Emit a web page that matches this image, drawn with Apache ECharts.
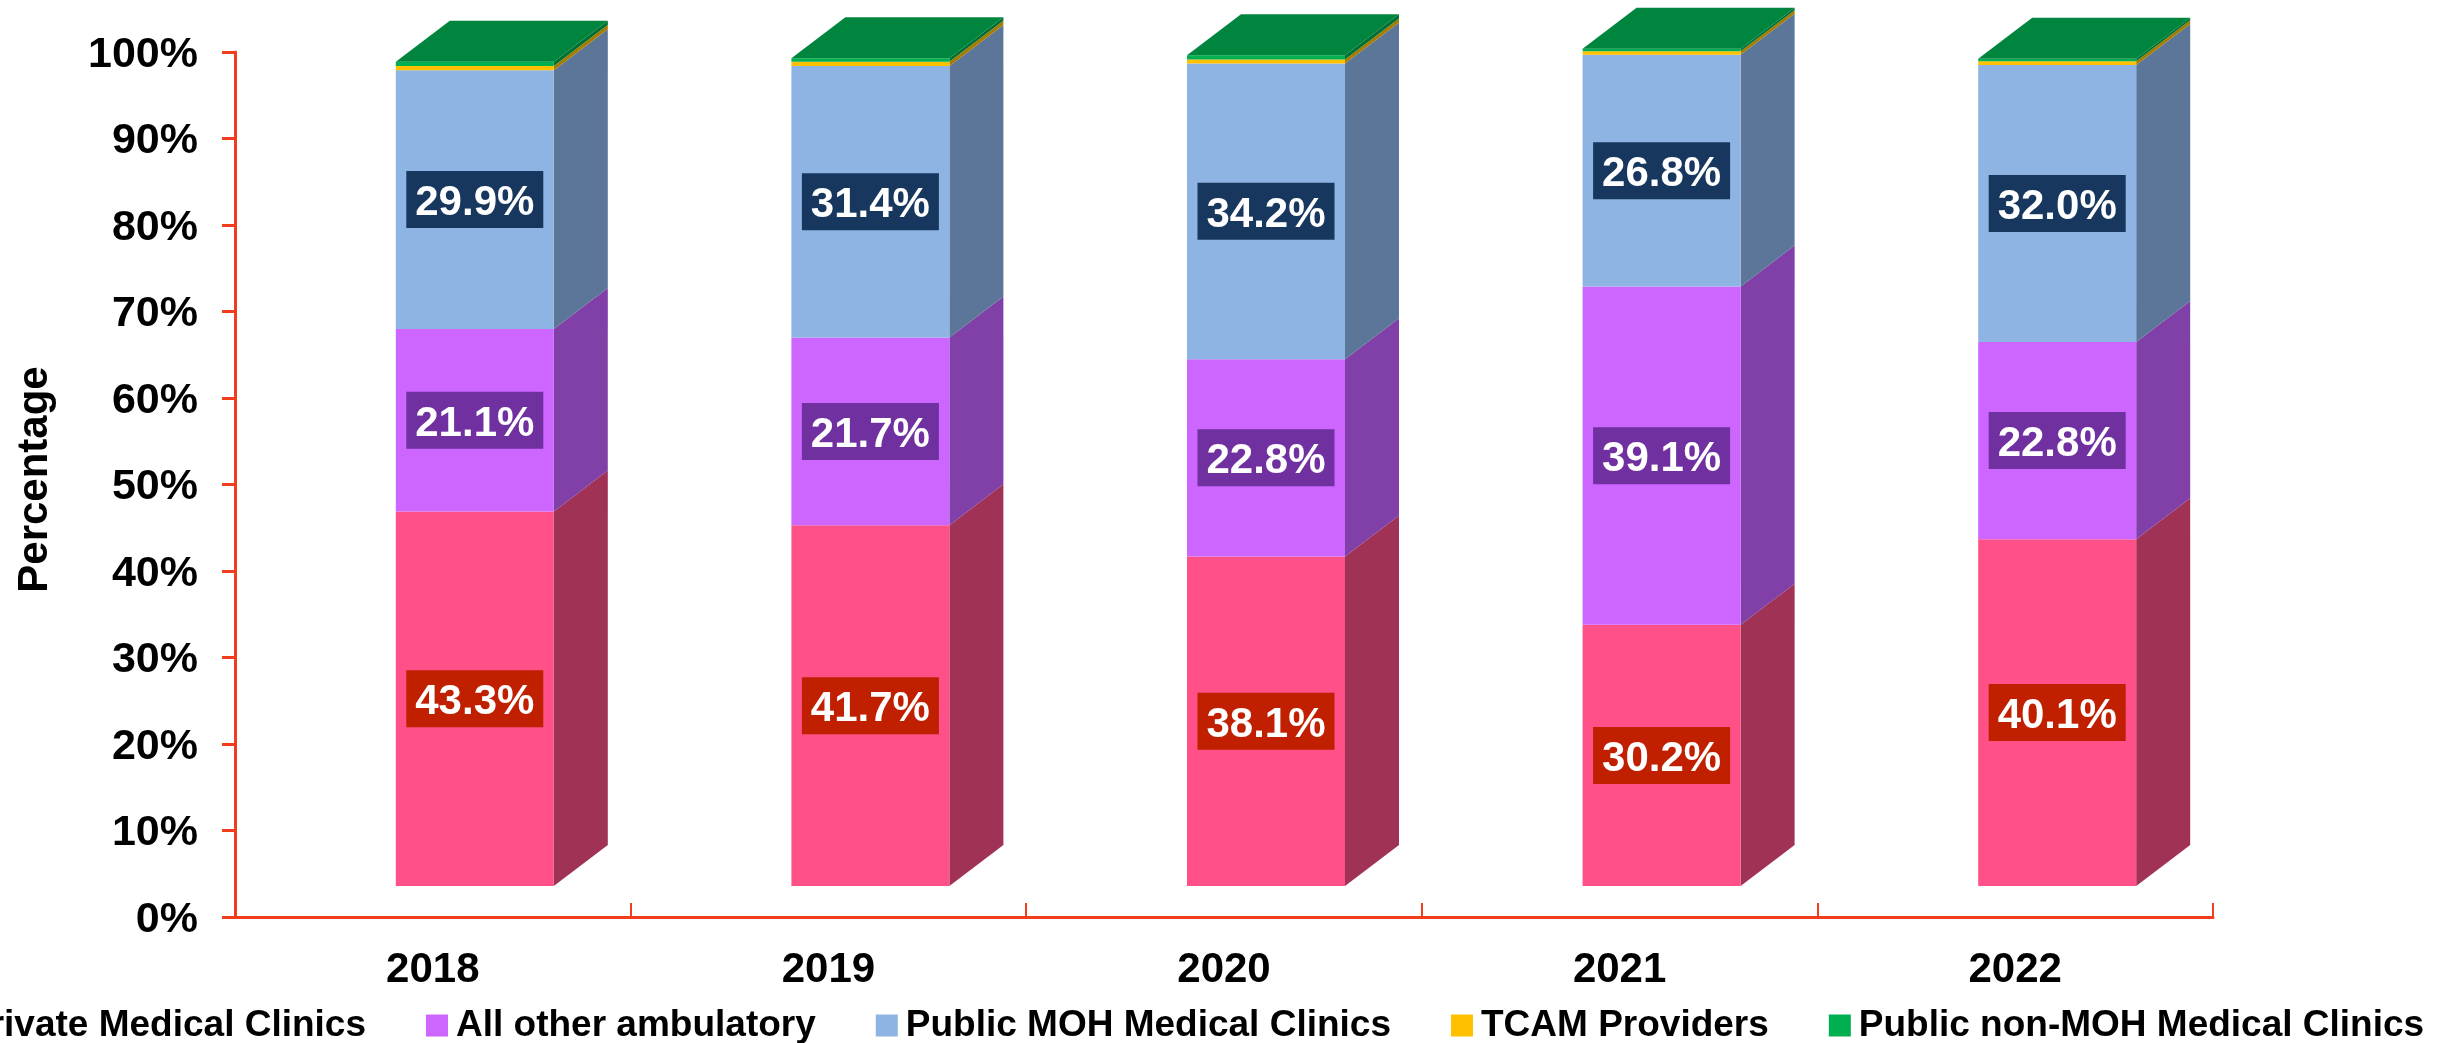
<!DOCTYPE html>
<html>
<head>
<meta charset="utf-8">
<style>
html, body { margin: 0; padding: 0; background: #fff; }
#chart { width: 2438px; height: 1043px; }
</style>
<script src="https://cdn.jsdelivr.net/npm/echarts@6/dist/echarts.min.js"></script>
</head>
<body>
<div id="chart"></div>
<script>
const years = ['2018', '2019', '2020', '2021', '2022'];
const yTicks = [0, 10, 20, 30, 40, 50, 60, 70, 80, 90, 100];
const seriesNames = ['Private Medical Clinics', 'All other ambulatory', 'Public MOH Medical Clinics', 'TCAM Providers', 'Public non-MOH Medical Clinics'];

const privateClinics = [43.3, 41.7, 38.1, 30.2, 40.1];
const otherAmbulatory = [21.1, 21.7, 22.8, 39.1, 22.8];
const publicMoh = [29.9, 31.4, 34.2, 26.8, 32.0];
const tcam = [0.5, 0.5, 0.45, 0.4, 0.45];
const publicNonMoh = [0.5, 0.4, 0.5, 0.3, 0.3];

const allValues = [privateClinics, otherAmbulatory, publicMoh, tcam, publicNonMoh];
const frontColors = ['#FF5088', '#CC66FF', '#8DB4E2', '#FFC000', '#00B050'];
const sideColors = ['#A03256', '#8040A8', '#5C7699', '#A67C00', '#006F32'];
const labelColors = ['#C01F00', '#7030A0', '#17375E', null, null];
const topColor = '#00853E';

// pseudo 3d: the bars sit in front of the axis plane
const barW = 158;
const depthX = 54;
const depthY = 41;
const shiftX = 42;
const shiftY = -31;
const labelBoxW = 137;
const labelBoxH = 57;

const fontName = '"Liberation Sans", Arial, sans-serif';
const chart = echarts.init(document.getElementById('chart'));

function makeSeries(idx) {
    const data = years.map((y, i) => {
        let base = 0;
        for (let s = 0; s < idx; s++) base += allValues[s][i];
        return [i, base, base + allValues[idx][i]];
    });
    return {
        name: seriesNames[idx],
        type: 'custom',
        itemStyle: { color: frontColors[idx] },
        encode: { x: 0, y: 2 },
        data: data,
        z: 2 + idx,
        renderItem: function (params, api) {
            const i = api.value(0);
            const p0 = api.coord([i, api.value(1)]);
            const p1 = api.coord([i, api.value(2)]);
            const x = p0[0] + shiftX - barW / 2;
            const yb = p0[1] + shiftY;
            const yt = p1[1] + shiftY;
            const children = [{
                type: 'polygon',
                shape: { points: [[x + barW, yb], [x + barW + depthX, yb - depthY], [x + barW + depthX, yt - depthY], [x + barW, yt]] },
                style: { fill: sideColors[idx] }
            }, {
                type: 'rect',
                shape: { x: x, y: yt, width: barW, height: yb - yt },
                style: { fill: frontColors[idx] }
            }];
            if (idx === allValues.length - 1) {
                children.push({
                    type: 'polygon',
                    shape: { points: [[x, yt], [x + depthX, yt - depthY], [x + barW + depthX, yt - depthY], [x + barW, yt]] },
                    style: { fill: topColor }
                });
            }
            if (labelColors[idx]) {
                const cx = x + barW / 2;
                const cy = (yb + yt) / 2;
                children.push({
                    type: 'rect',
                    z2: 9,
                    shape: { x: cx - labelBoxW / 2, y: cy - labelBoxH / 2, width: labelBoxW, height: labelBoxH },
                    style: { fill: labelColors[idx] }
                }, {
                    type: 'text',
                    z2: 10,
                    style: {
                        x: cx,
                        y: cy + 4,
                        text: allValues[idx][i].toFixed(1) + '%',
                        fill: '#fff',
                        font: 'bold 42px ' + fontName,
                        align: 'center',
                        verticalAlign: 'middle'
                    }
                });
            }
            return { type: 'group', children: children };
        }
    };
}

chart.setOption({
    animation: false,
    backgroundColor: '#fff',
    textStyle: { fontFamily: fontName },
    grid: { left: 235, right: 225, top: 52, bottom: 126, outerBoundsMode: 'none' },
    legend: {
        data: seriesNames,
        left: -70,
        top: 1002,
        width: 4000,
        itemWidth: 22,
        itemHeight: 22,
        itemGap: 60,
        icon: 'rect',
        textStyle: { fontSize: 37, fontWeight: 'bold', color: '#000', fontFamily: fontName, padding: [0, 0, 0, 3] }
    },
    xAxis: {
        type: 'category',
        data: years,
        axisLine: { lineStyle: { color: '#F23C1E', width: 3 } },
        axisTick: { show: true, inside: true, length: 14, lineStyle: { color: '#F23C1E', width: 2 } },
        axisLabel: { fontSize: 42, fontWeight: 'bold', color: '#000', margin: 32 }
    },
    yAxis: {
        type: 'value',
        min: yTicks[0],
        max: yTicks[yTicks.length - 1],
        interval: 10,
        name: 'Percentage',
        nameLocation: 'middle',
        nameGap: 179,
        nameTextStyle: { fontSize: 42, fontWeight: 'bold', color: '#000', padding: [0, 0, 0, 10] },
        splitLine: { show: false },
        axisLine: { show: true, lineStyle: { color: '#F23C1E', width: 3 } },
        axisTick: { show: true, length: 13, lineStyle: { color: '#F23C1E', width: 3 } },
        axisLabel: { fontSize: 43, fontWeight: 'bold', color: '#000', margin: 37, verticalAlign: 'top', lineHeight: 6, formatter: '{value}%' }
    },
    series: allValues.map((v, idx) => makeSeries(idx))
});
</script>
</body>
</html>
